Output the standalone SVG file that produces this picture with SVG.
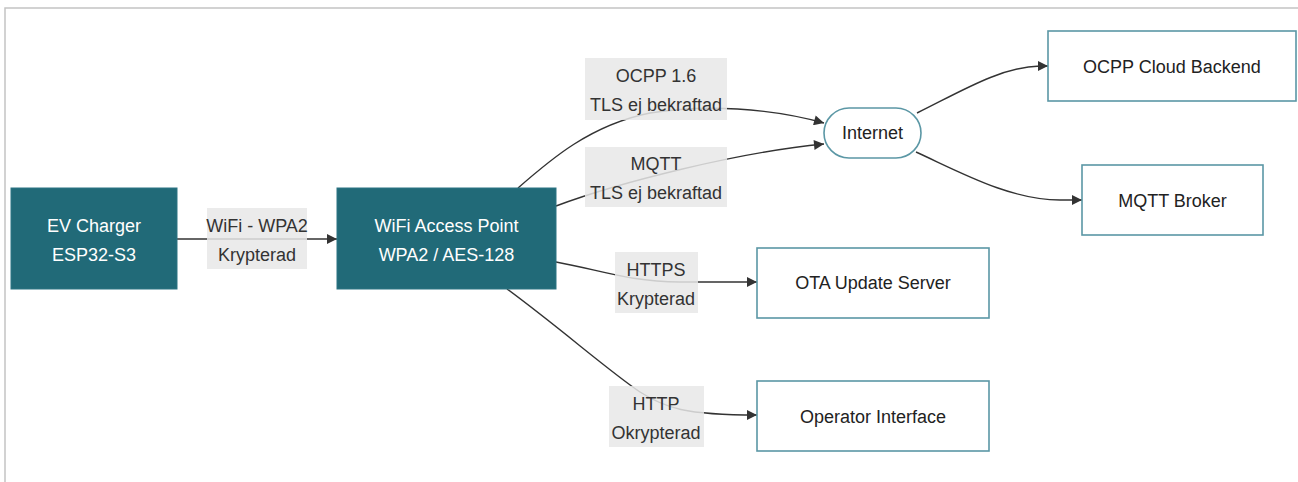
<svg xmlns="http://www.w3.org/2000/svg" width="1298" height="482" viewBox="0 0 1298 482">
<defs>
<style>
text{font-family:"Liberation Sans",Arial,sans-serif;font-size:18px;text-anchor:middle}
.dark rect{fill:#216a78;stroke:#2d7583;stroke-width:1}
.dark text{fill:#ffffff}
.light rect{fill:#ffffff;stroke:#5b97a5;stroke-width:1.6}
.light text{fill:#222}
.edge{fill:none;stroke:#333;stroke-width:1.4;marker-end:url(#arr)}
.lbl rect{fill:#e8e8e8;fill-opacity:0.85}
.lbl text{fill:#333}
.frame{stroke:#c4c4c4;stroke-width:1.5;fill:none}
</style>
<marker id="arr" viewBox="0 0 10 10" refX="10" refY="5" markerUnits="userSpaceOnUse" markerWidth="11" markerHeight="10" orient="auto">
<path d="M0,0 L10,5 L0,10 z" fill="#333"/>
</marker>
</defs>
<rect width="1298" height="482" fill="#ffffff"/>
<path class="frame" d="M5,482 L5,8 L1298,8"/>

<g id="connectors">
<path class="edge" d="M177,239 L337,239"/>
<path class="edge" d="M518,188 C550,160 590,125 650,113 C705,104 770,108 824,123"/>
<path class="edge" d="M556,206 C620,182 740,152 824,144"/>
<path class="edge" d="M917,113 C960,92 1000,67 1040,66 L1048,66"/>
<path class="edge" d="M916,152 C960,172 1010,200 1060,200 L1082,200"/>
<path class="edge" d="M556,262 C600,270 630,282 680,282 L757,282"/>
<path class="edge" d="M507,289 C560,328 610,372 640,392 C665,408 685,415 757,415"/>
</g>

<g id="label-wifi" class="lbl"><rect x="207" y="208" width="100" height="61"/><text x="257" y="232">WiFi - WPA2</text><text x="257" y="261">Krypterad</text></g>
<g id="label-ocpp" class="lbl"><rect x="585" y="58" width="142" height="62"/><text x="656" y="82">OCPP 1.6</text><text x="656" y="111">TLS ej bekraftad</text></g>
<g id="label-mqtt" class="lbl"><rect x="585" y="147" width="142" height="60"/><text x="656" y="170">MQTT</text><text x="656" y="199">TLS ej bekraftad</text></g>
<g id="label-https" class="lbl"><rect x="615" y="252" width="83" height="61"/><text x="656" y="276">HTTPS</text><text x="656" y="305">Krypterad</text></g>
<g id="label-http" class="lbl"><rect x="609" y="386" width="95" height="61"/><text x="656" y="410">HTTP</text><text x="656" y="439">Okrypterad</text></g>

<g id="ev-charger" class="dark"><rect x="11" y="188" width="166" height="101"/><text x="94" y="232">EV Charger</text><text x="94" y="261">ESP32-S3</text></g>
<g id="wifi-ap" class="dark"><rect x="337" y="188" width="219" height="101"/><text x="446.5" y="232">WiFi Access Point</text><text x="446.5" y="261">WPA2 / AES-128</text></g>
<g id="internet" class="light"><rect x="824" y="108" width="97" height="50" rx="25" ry="25"/><text x="872.5" y="139">Internet</text></g>
<g id="ocpp-cloud" class="light"><rect x="1048" y="31" width="248" height="70"/><text x="1172" y="73">OCPP Cloud Backend</text></g>
<g id="mqtt-broker" class="light"><rect x="1082" y="165" width="181" height="70"/><text x="1172.5" y="207">MQTT Broker</text></g>
<g id="ota-server" class="light"><rect x="757" y="248" width="232" height="70"/><text x="873" y="289">OTA Update Server</text></g>
<g id="operator-interface" class="light"><rect x="757" y="381" width="232" height="70"/><text x="873" y="423">Operator Interface</text></g>
</svg>
